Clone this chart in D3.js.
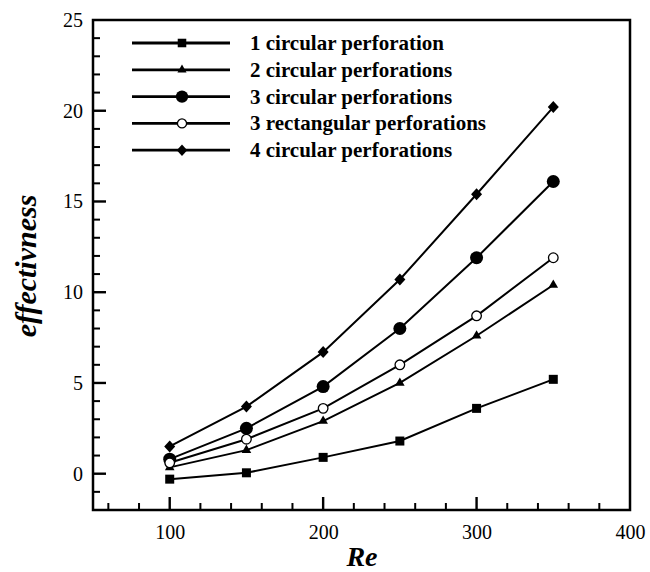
<!DOCTYPE html>
<html>
<head>
<meta charset="utf-8">
<script src="https://cdn.jsdelivr.net/npm/d3@7"></script>
<style>
  body { margin: 0; background: #fff; }
  svg text { font-family: "Liberation Serif", "Times New Roman", serif; fill: #000; }
</style>
</head>
<body>
<svg id="chart" width="650" height="572"></svg>
<script>
// Re values along the x axis
var reValues = [100, 150, 200, 250, 300, 350];

// effectiveness per configuration
var oneCircular = [-0.3, 0.05, 0.9, 1.8, 3.6, 5.2];
var twoCircular = [0.35, 1.3, 2.9, 5.0, 7.6, 10.4];
var threeCircular = [0.8, 2.5, 4.8, 8.0, 11.9, 16.1];
var threeRectangular = [0.6, 1.9, 3.6, 6.0, 8.7, 11.9];
var fourCircular = [1.5, 3.7, 6.7, 10.7, 15.4, 20.2];

var seriesNames = [
    '1 circular perforation',
    '2 circular perforations',
    '3 circular perforations',
    '3 rectangular perforations',
    '4 circular perforations'
];
var seriesValues = [oneCircular, twoCircular, threeCircular, threeRectangular, fourCircular];
var seriesMarkers = ['square', 'triangle', 'circle', 'opencircle', 'diamond'];

var xTicks = [100, 200, 300, 400];
var yTicks = [0, 5, 10, 15, 20, 25];

var svg = d3.select('#chart');
var margin = {left: 93, right: 20, top: 20, bottom: 62};
var plotW = 650 - margin.left - margin.right;
var plotH = 572 - margin.top - margin.bottom;

var x = d3.scaleLinear().domain([50, 400]).range([margin.left, margin.left + plotW]);
var y = d3.scaleLinear().domain([-2, 25]).range([margin.top + plotH, margin.top]);
var bottom = margin.top + plotH;
var left = margin.left;

// tick labels through d3 axes
var xAxis = svg.append('g').attr('transform', 'translate(0,' + bottom + ')')
    .call(d3.axisBottom(x).tickValues(xTicks).tickSize(0).tickPadding(12));
var yAxis = svg.append('g').attr('transform', 'translate(' + left + ',0)')
    .call(d3.axisLeft(y).tickValues(yTicks).tickSize(0).tickPadding(10));

[xAxis, yAxis].forEach(function (a) {
    a.select('.domain').remove();
    a.selectAll('.tick line').remove();
    a.selectAll('text').attr('font-size', '20px').attr('font-family', '"Liberation Serif", serif').attr('fill', '#000');
});
xAxis.selectAll('text').attr('dy', '0.85em');

// marker drawer
function drawMarker(sel, type, scale) {
    var s = scale || 1;
    if (type === 'square') {
        sel.append('rect').attr('x', -4.5 * s).attr('y', -4.5 * s).attr('width', 9 * s).attr('height', 9 * s).attr('fill', '#000');
    } else if (type === 'triangle') {
        sel.append('path').attr('d', d3.symbol().type(d3.symbolTriangle).size(40 * s * s)).attr('fill', '#000');
    } else if (type === 'circle') {
        sel.append('circle').attr('r', 6.5 * s).attr('fill', '#000');
    } else if (type === 'opencircle') {
        sel.append('circle').attr('r', 4.8 * s).attr('fill', '#fff').style('stroke', '#000').style('stroke-width', '1.3px');
    } else if (type === 'diamond') {
        sel.append('path').attr('d', 'M0,' + (-6 * s) + 'L' + (5.5 * s) + ',0L0,' + (6 * s) + 'L' + (-5.5 * s) + ',0Z').attr('fill', '#000');
    }
}

var line = d3.line()
    .x(function (d, i) { return x(reValues[i]); })
    .y(function (d) { return y(d); });

seriesValues.forEach(function (vals, si) {
    svg.append('path').datum(vals)
        .attr('d', line)
        .attr('fill', 'none').style('stroke', '#000').style('stroke-width', '2px');
    svg.append('g').selectAll('g')
        .data(vals).enter().append('g')
        .attr('transform', function (d, i) { return 'translate(' + x(reValues[i]) + ',' + y(d) + ')'; })
        .each(function () { drawMarker(d3.select(this), seriesMarkers[si]); });
});

// inward tick marks as small filled rects
var minorX = d3.range(60, 400, 20).filter(function (d) { return d % 100 !== 0; });
var minorY = d3.range(-1, 25, 1).filter(function (d) { return d % 5 !== 0; });

var ticks = svg.append('g').attr('class', 'tickmarks');
ticks.selectAll('rect.mx').data(minorX).enter().append('rect').attr('class', 'mx')
    .attr('x', function (d) { return x(d) - 1; }).attr('y', bottom - 7)
    .attr('width', 2).attr('height', 7).attr('fill', '#000');
ticks.selectAll('rect.my').data(minorY).enter().append('rect').attr('class', 'my')
    .attr('x', left).attr('y', function (d) { return y(d) - 1; })
    .attr('width', 7).attr('height', 2).attr('fill', '#000');
ticks.selectAll('rect.Mx').data(xTicks.slice(0, 3)).enter().append('rect').attr('class', 'Mx')
    .attr('x', function (d) { return x(d) - 1.2; }).attr('y', bottom - 13)
    .attr('width', 2.4).attr('height', 13).attr('fill', '#000');
ticks.selectAll('rect.My').data(yTicks.slice(0, 5)).enter().append('rect').attr('class', 'My')
    .attr('x', left).attr('y', function (d) { return y(d) - 1.2; })
    .attr('width', 13).attr('height', 2.4).attr('fill', '#000');

// frame
svg.append('path')
    .attr('d', 'M' + left + ',' + margin.top + 'H' + (left + plotW) + 'V' + bottom + 'H' + left + 'Z')
    .attr('fill', 'none').style('stroke', '#000').style('stroke-width', '2.5px');

// legend
var legend = svg.append('g').attr('transform', 'translate(132,43)');
seriesNames.forEach(function (name, i) {
    var row = legend.append('g').attr('transform', 'translate(0,' + (i * 26.8) + ')');
    row.append('line').attr('x1', 0).attr('x2', 98).attr('y1', 0).attr('y2', 0)
        .style('stroke', '#000').style('stroke-width', '2.8px');
    drawMarker(row.append('g').attr('transform', 'translate(50,0)'), seriesMarkers[i], 0.95);
    row.append('text').attr('x', 118).attr('y', 7)
        .attr('font-size', '21px').attr('font-weight', 'bold')
        .text(name);
});

// axis titles
svg.append('text')
    .attr('x', 362).attr('y', 566)
    .attr('text-anchor', 'middle')
    .attr('font-size', '28px').attr('font-weight', 'bold').attr('font-style', 'italic')
    .text('Re');

svg.append('text')
    .attr('transform', 'translate(36,266) rotate(-90)')
    .attr('text-anchor', 'middle')
    .attr('font-size', '30px').attr('font-weight', 'bold').attr('font-style', 'italic')
    .text('effectivness');
</script>
</body>
</html>
